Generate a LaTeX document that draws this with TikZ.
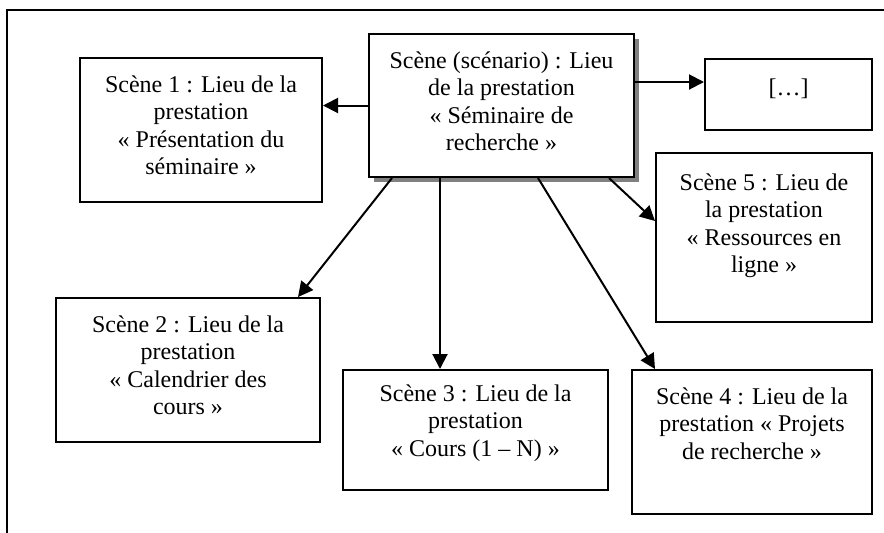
\documentclass[tikz,border=0pt]{standalone}
\usepackage{fontspec}
\setmainfont{Liberation Serif}
\usetikzlibrary{calc,arrows.meta,shadows}
\begin{document}
\begin{tikzpicture}[x=0.5pt,y=-0.5pt,
  box/.style={draw=black, line width=1pt, fill=white, inner sep=0pt},
  txt/.style={align=center, inner sep=0pt, anchor=base, font=\fontsize{12pt}{13.8pt}\selectfont},
  arr/.style={-{Triangle[length=7.5pt,width=7.5pt]}, line width=1pt}]
\useasboundingbox (0,0) rectangle (884,532);
\draw[line width=1pt] (7,560) -- (7,10) -- (900,10);
\node[box, minimum width=121pt, minimum height=72pt] (s1) at (201,130) {};
\node[box, minimum width=132.5pt, minimum height=71.5pt,
      general shadow={shadow xshift=2.5pt, shadow yshift=-2.5pt, fill=black!50}] (main) at (501.5,105.5) {};
\node[box, minimum width=83.5pt, minimum height=35.5pt] (dots) at (788.5,94.5) {};
\node[box, minimum width=108pt, minimum height=84.5pt] (s5) at (764,237.5) {};
\node[box, minimum width=132pt, minimum height=72pt] (s2) at (188,370) {};
\node[box, minimum width=132.5pt, minimum height=60pt] (s3) at (475.5,430) {};
\node[box, minimum width=120pt, minimum height=72pt] (s4) at (752,442) {};
\node[txt] (t1) at (201,174.8) {Scène 1 : Lieu de la\\prestation\\« Présentation du\\séminaire »};
\node[txt] (tm) at (501.5,150.8) {Scène (scénario) : Lieu\\de la prestation\\« Séminaire de\\recherche »};
\node[txt] (td) at (788.5,95) {[…]};
\node[txt] (t5) at (764,272.8) {Scène 5 : Lieu de\\la prestation\\« Ressources en\\ligne »};
\node[txt] (t2) at (188,414.8) {Scène 2 : Lieu de la\\prestation\\« Calendrier des\\cours »};
\node[txt] (t3) at (475.5,456.2) {Scène 3 : Lieu de la\\prestation\\« Cours (1 – N) »};
\node[txt] (t4) at (752,459.2) {Scène 4 : Lieu de la\\prestation « Projets\\de recherche »};
\draw[arr] (main.west) -- (main.west -| s1.east);
\draw[arr] ($(main.north east)+(0,49)$) coordinate (d0) -- (d0 -| dots.west);
\draw[arr] ($(main.south west)+(24,0)$) -- ($(s2.north east)+(-23,0)$);
\draw[arr] ($(main.south west)+(72,0)$) -- ($(s3.north west)+(98,0)$);
\draw[arr] ($(main.south west)+(170,0)$) -- ($(s4.north west)+(24,0)$);
\draw[arr] ($(main.south west)+(241,0)$) -- ($(s5.north west)+(0,69)$);
\end{tikzpicture}
\end{document}
